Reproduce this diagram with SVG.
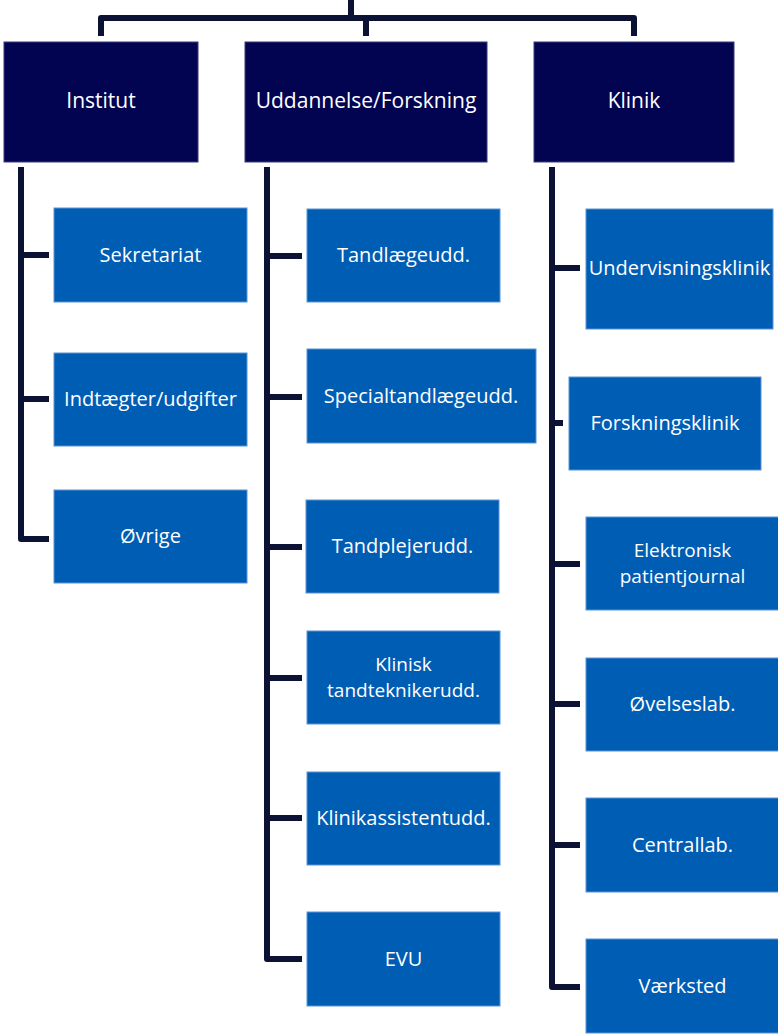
<svg xmlns="http://www.w3.org/2000/svg" width="778" height="1034" viewBox="0 0 778 1034">
<style>
.bg{fill:#ffffff}
.top{fill:#020452;stroke:#3a3c78;stroke-width:1}
.sub{fill:#005db4;stroke:#5d93d6;stroke-width:1}
.lbl{font-family:"Open Sans","Liberation Sans",sans-serif;fill:#ffffff;text-anchor:middle;font-size:20px}
.lbl2{font-family:"Open Sans","Liberation Sans",sans-serif;fill:#ffffff;text-anchor:middle;font-size:19px}
.lblt{font-family:"Open Sans","Liberation Sans",sans-serif;fill:#ffffff;text-anchor:middle;font-size:21px}
.con{fill:none;stroke:#0b1233;stroke-width:6;stroke-linejoin:round}
</style>
<rect class="bg" x="0" y="0" width="778" height="1034"/>
<g id="connectors">
<path class="con" d="M351,0 V18"/>
<path class="con" d="M101,36 V18 H634 V36"/>
<path class="con" d="M366,18 V36"/>
<path class="con" d="M21,167 V539 H49"/>
<path class="con" d="M21,255 H49 M21,399 H49"/>
<path class="con" d="M267,167 V959 H302"/>
<path class="con" d="M267,256 H302 M267,397 H302 M267,547 H302 M267,678 H302 M267,818 H302"/>
<path class="con" d="M552,167 V987 H580"/>
<path class="con" d="M552,268 H580 M552,423 H563 M552,564 H580 M552,704 H580 M552,845 H580"/>
</g>
<g id="institut"><rect class="top" x="4" y="42" width="194" height="120"/><text class="lblt" x="101" y="108">Institut</text></g>
<g id="uddannelse"><rect class="top" x="245" y="42" width="242" height="120"/><text class="lblt" x="366" y="108">Uddannelse/Forskning</text></g>
<g id="klinik"><rect class="top" x="534" y="42" width="200" height="120"/><text class="lblt" x="634" y="108">Klinik</text></g>

<g id="sekretariat"><rect class="sub" x="54" y="208" width="193" height="94"/><text class="lbl" x="150.5" y="262">Sekretariat</text></g>
<g id="indtaegter"><rect class="sub" x="54" y="353" width="193" height="93"/><text class="lbl" x="150.5" y="406">Indtægter/udgifter</text></g>
<g id="oevrige"><rect class="sub" x="54" y="490" width="193" height="93"/><text class="lbl" x="150.5" y="543">Øvrige</text></g>

<g id="tandlaegeudd"><rect class="sub" x="307" y="209" width="193" height="93"/><text class="lbl" x="403.5" y="262">Tandlægeudd.</text></g>
<g id="specialtandlaegeudd"><rect class="sub" x="307" y="349" width="229" height="94"/><text class="lbl" x="421" y="403">Specialtandlægeudd.</text></g>
<g id="tandplejerudd"><rect class="sub" x="306" y="500" width="193" height="93"/><text class="lbl" x="402.5" y="553">Tandplejerudd.</text></g>
<g id="tandteknikerudd"><rect class="sub" x="307" y="631" width="193" height="93"/><text class="lbl2" x="403.5" y="671"><tspan x="403.5">Klinisk</tspan><tspan x="403.5" dy="26">tandteknikerudd.</tspan></text></g>
<g id="klinikassistentudd"><rect class="sub" x="307" y="772" width="193" height="93"/><text class="lbl" x="403.5" y="825">Klinikassistentudd.</text></g>
<g id="evu"><rect class="sub" x="307" y="912" width="193" height="94"/><text class="lbl" x="403.5" y="966">EVU</text></g>

<g id="undervisningsklinik"><rect class="sub" x="586" y="209" width="187" height="120"/><text class="lbl" x="679.5" y="275">Undervisningsklinik</text></g>
<g id="forskningsklinik"><rect class="sub" x="569" y="377" width="192" height="93"/><text class="lbl" x="665" y="430">Forskningsklinik</text></g>
<g id="patientjournal"><rect class="sub" x="586" y="517" width="193" height="93"/><text class="lbl2" x="682.5" y="557"><tspan x="682.5">Elektronisk</tspan><tspan x="682.5" dy="26">patientjournal</tspan></text></g>
<g id="oevelseslab"><rect class="sub" x="586" y="658" width="193" height="93"/><text class="lbl" x="682.5" y="711">Øvelseslab.</text></g>
<g id="centrallab"><rect class="sub" x="586" y="798" width="193" height="94"/><text class="lbl" x="682.5" y="852">Centrallab.</text></g>
<g id="vaerksted"><rect class="sub" x="586" y="939" width="193" height="94"/><text class="lbl" x="682.5" y="993">Værksted</text></g>
</svg>
